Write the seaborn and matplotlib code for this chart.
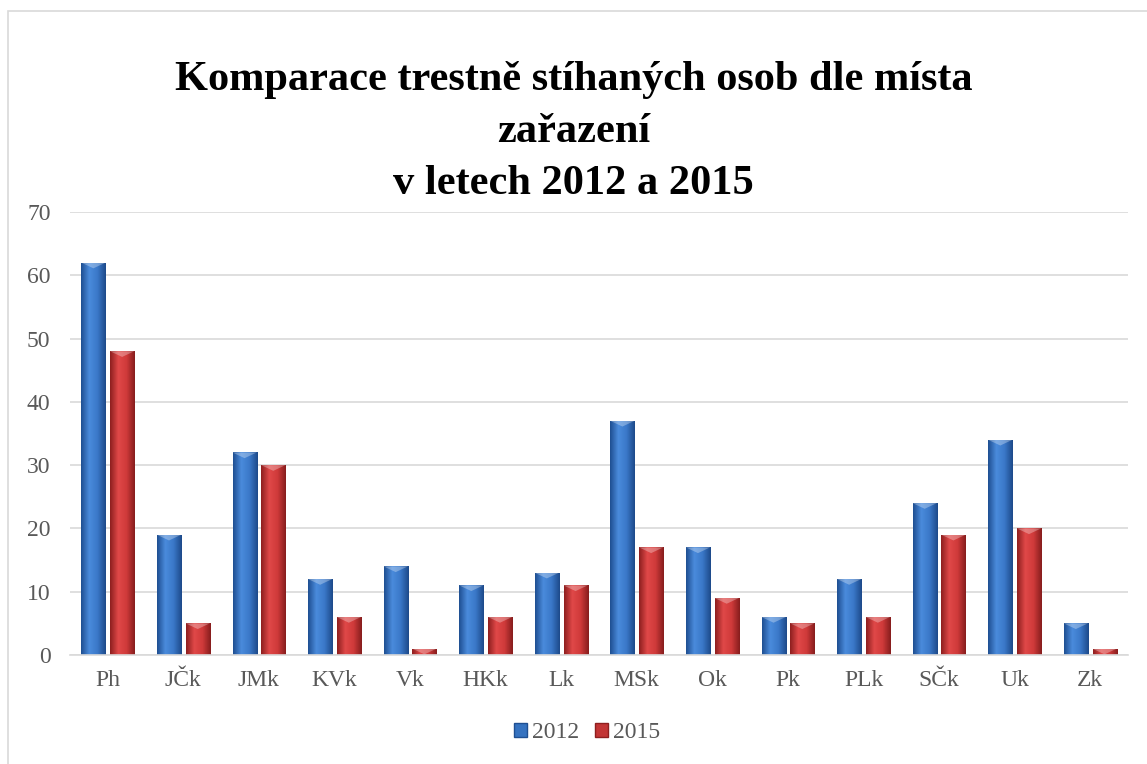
import matplotlib
matplotlib.use('Agg')
import matplotlib.pyplot as plt
import matplotlib.patches as mpatches
from matplotlib.colors import LinearSegmentedColormap
import seaborn as sns
import pandas as pd
import numpy as np

# data
regions = ['Ph', 'JČk', 'JMk', 'KVk', 'Vk', 'HKk', 'Lk', 'MSk', 'Ok', 'Pk', 'PLk', 'SČk', 'Uk', 'Zk']
y2012 = [62, 19, 32, 12, 14, 11, 13, 37, 17, 6, 12, 24, 34, 5]
y2015 = [48, 5, 30, 6, 1, 6, 11, 17, 9, 5, 6, 19, 20, 1]
years = ['2012', '2015']

df = pd.DataFrame({
    'kraj': regions * 2,
    'rok': [years[0]] * len(regions) + [years[1]] * len(regions),
    'pocet': y2012 + y2015,
})

sns.set_theme(style='white')
plt.rcParams['font.family'] = ['Liberation Serif', 'DejaVu Serif']

blue = '#3572c0'
red = '#c23535'

fig = plt.figure(figsize=(11.47, 7.64), dpi=100)
ax = fig.add_axes([70 / 1147, 1 - 655 / 764, (1128 - 70) / 1147, (655 - 212) / 764])

sns.barplot(data=df, x='kraj', y='pocet', hue='rok', palette=[blue, red],
            width=0.76, gap=0.16, ax=ax, legend=False, saturation=1,
            edgecolor='none')

# bevelled look: horizontal gradient clipped to each bar
cmaps = {
    blue: LinearSegmentedColormap.from_list('b', ['#1f4f92', '#4a8bdc', '#3a78c8', '#1d4a8a']),
    red: LinearSegmentedColormap.from_list('r', ['#8e1f1f', '#e04848', '#cf3a3a', '#871d1d']),
}
grad = np.linspace(0, 1, 64).reshape(1, -1)
for i, p in enumerate(ax.patches):
    x, y, w, h = p.get_x(), p.get_y(), p.get_width(), p.get_height()
    if h <= 0:
        continue
    cm = cmaps[blue] if i < len(regions) else cmaps[red]
    im = ax.imshow(grad, cmap=cm, aspect='auto', extent=[x, x + w, y, y + h], zorder=p.get_zorder() + 0.1)
    im.set_clip_path(p)
    # top facet
    top = min(h, 0.9)
    tri = mpatches.Polygon([[x, y + h], [x + w, y + h], [x + w / 2, y + h - top]], closed=True,
                           facecolor='white', alpha=0.3, edgecolor='none', zorder=p.get_zorder() + 0.2)
    ax.add_patch(tri)

ax.set_xlim(-0.5, len(regions) - 0.5)
ax.set_ylim(0, 70)
ax.set_yticks(range(0, 71, 10))
ax.yaxis.grid(True, color='#d9d9d9', linewidth=1.2)
ax.set_axisbelow(True)
for s in ['top', 'right', 'left']:
    ax.spines[s].set_visible(False)
ax.spines['bottom'].set_color('#d9d9d9')
ax.spines['bottom'].set_linewidth(1.2)
ax.tick_params(axis='x', length=0, pad=11, labelsize=17, labelcolor='#595959')
ax.tick_params(axis='y', length=0, pad=14, labelsize=17, labelcolor='#595959')
ax.set_xlabel('')
ax.set_ylabel('')

fig.text(0.5, 1 - 132 / 764, 'Komparace trestně stíhaných osob dle místa\nzařazení\nv letech 2012 a 2015',
         ha='center', va='center', fontsize=30.5, fontweight='bold', color='black', linespacing=1.48)

handles = [mpatches.Patch(facecolor=blue, edgecolor='#1f4f92'),
           mpatches.Patch(facecolor=red, edgecolor='#8e1f1f')]
leg = fig.legend(handles, years, loc='center', bbox_to_anchor=(587 / 1147, 1 - 733 / 764), ncol=2,
                 frameon=False, fontsize=17, handlelength=0.55, handleheight=0.55,
                 handletextpad=0.2, columnspacing=0.7)
for t in leg.get_texts():
    t.set_color('#595959')

# chart frame
fig.add_artist(mpatches.Rectangle((8 / 1147, -0.1), 1.2, 1 - 11 / 764 + 0.1, transform=fig.transFigure,
                                  facecolor='none', edgecolor='#d9d9d9', linewidth=1.2))

fig.savefig('out.png', dpi=100)
